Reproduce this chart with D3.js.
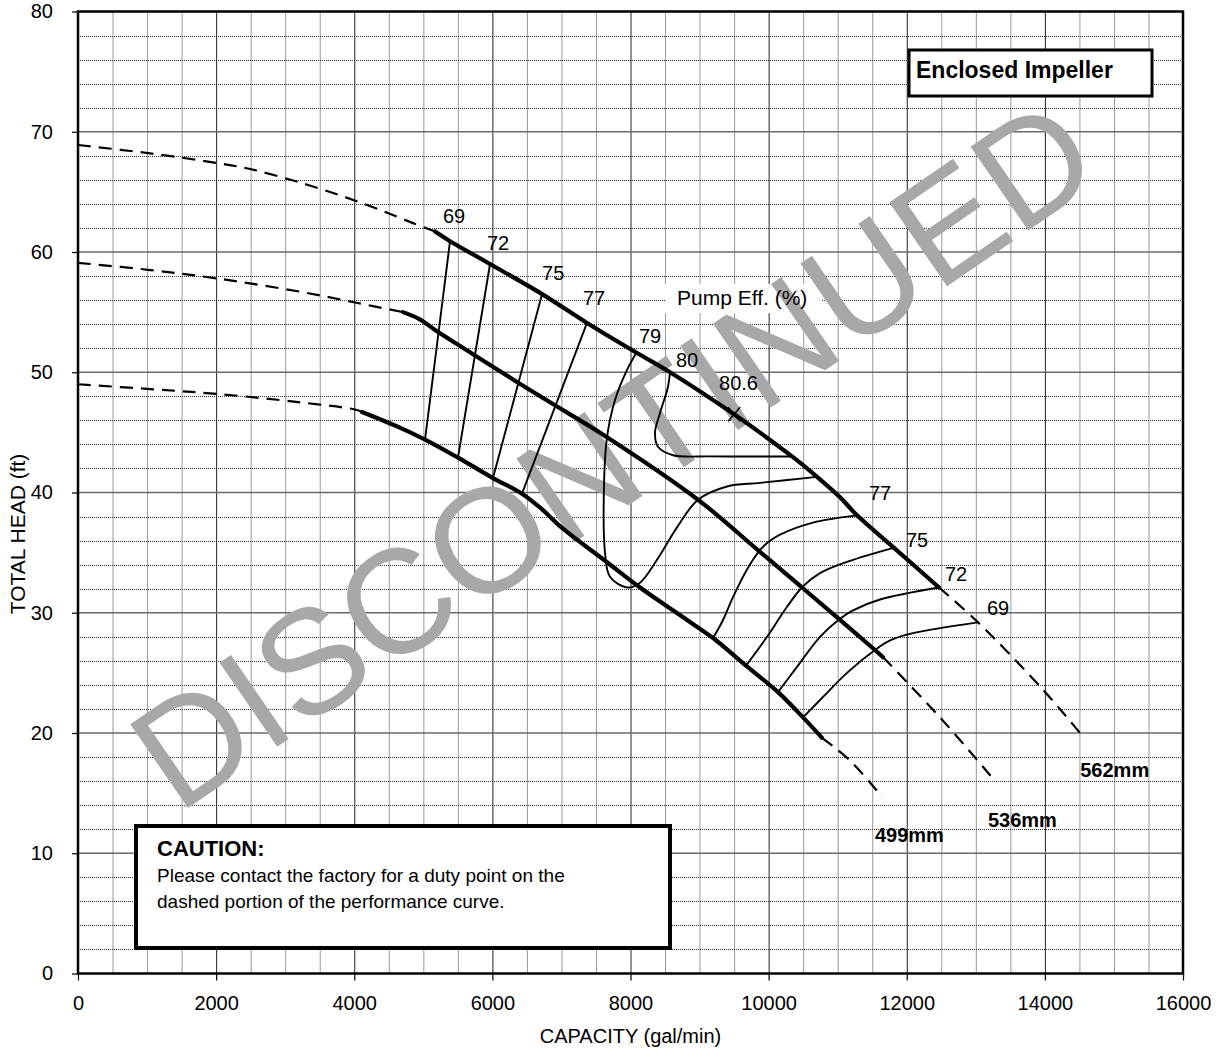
<!DOCTYPE html>
<html><head><meta charset="utf-8">
<script src="https://cdn.jsdelivr.net/npm/d3@7"></script>
<style>
body{margin:0;background:#fff;}
svg{display:block;}
text{font-family:"Liberation Sans",Arial,Helvetica,sans-serif;}
</style></head><body>
<svg id="chart" width="1218" height="1053"></svg>
<script>
// ---------- data ----------
const xTicks = [0,2000,4000,6000,8000,10000,12000,14000,16000];
const yTicks = [0,10,20,30,40,50,60,70,80];
const xMinor = d3.range(500,16000,500).filter(v => v % 2000 !== 0);
const yMinor = d3.range(2,80,2).filter(v => v % 10 !== 0);

// head curves (capacity gal/min, head ft)
const head562Low  = [[0,68.9],[1043,68.2],[2013,67.4],[2491,66.9],[3142,65.9],[3800,64.7],[4373,63.5],[4851,62.4],[5170,61.7]];
const head562Main = [[5170,61.7],[5387,60.9],[5966,59.0],[6720,56.5],[7370,54.1],[8094,51.6],[8572,50.0],[9500,46.5],[10339,43.0],[10701,41.3],[11034,39.6],[11280,38.1],[11816,35.4],[12467,32.1]];
const head562High = [[12467,32.1],[13032,29.2],[13973,23.6],[14509,20.0]];

const head536Low  = [[0,59.1],[1043,58.5],[2013,57.8],[3215,56.7],[4011,55.8],[4706,55.0]];
const head536Main = [[4706,55.0],[4950,54.4],[5198,53.4],[5720,51.5],[6299,49.4],[6835,47.5],[7660,44.6],[8978,39.4],[9846,35.2],[10484,32.1],[11034,29.4],[11540,26.9],[11657,26.3]];
const head536High = [[11657,26.3],[12482,21.3],[13235,16.3]];

const head499Low  = [[0,49.0],[1043,48.6],[2013,48.2],[3215,47.5],[4011,46.9],[4112,46.7]];
const head499Main = [[4112,46.7],[4619,45.5],[5025,44.4],[5502,42.9],[6009,41.2],[6429,39.9],[6720,38.6],[7000,37.1],[7660,34.2],[8138,32.1],[8818,29.4],[9195,27.9],[9673,25.6],[10136,23.4],[10498,21.3],[10773,19.6]];
const head499High = [[10773,19.6],[11179,17.7],[11642,14.7]];

// iso-efficiency curves
const eff69L = [[5387,60.9],[5025,44.4]];
const eff72L = [[5966,59.0],[5502,42.9]];
const eff75L = [[6720,56.5],[6009,41.2]];
const eff77L = [[7370,54.1],[6429,39.9]];
const eff79  = [[8094,51.7],[7950,50.2],[7776,47.7],[7660,44.6],[7616,40.5],[7631,35.0],[7703,33.0],[7950,32.1],[8138,32.5],[8384,34.4],[8674,37.1],[8978,39.4],[9398,40.5],[9875,40.8],[10701,41.3]];
const eff80  = [[8572,50.0],[8543,48.8],[8427,46.6],[8355,45.0],[8398,43.8],[8616,43.1],[9151,43.0],[9875,43.0],[10339,43.0]];
const eff77R = [[11280,38.1],[10643,37.5],[10165,36.5],[9977,35.8],[9875,35.2],[9687,33.6],[9484,31.3],[9340,29.4],[9195,27.9]];
const eff75R = [[11816,35.4],[11222,34.4],[10744,33.3],[10498,32.2],[10267,30.5],[9977,28.0],[9673,25.6]];
const eff72R = [[12467,32.1],[11613,31.1],[11222,30.2],[11034,29.5],[10744,28.0],[10411,25.5],[10136,23.4]];
const eff69R = [[13032,29.2],[12091,28.3],[11758,27.7],[11540,26.9],[11135,25.0],[10788,23.0],[10498,21.3]];

const bep = [9500,46.5];

const effLabels   = ["69","72","75","77","79","80","80.6","77","75","72","69"];
const effLabelPos = [[5285,62.4],[5922,60.2],[6719,57.7],[7312,55.6],[8123,52.4],[8659,50.4],[9282,48.5],[11453,39.4],[11989,35.5],[12554,32.6],[13162,29.8]];
const diaLabels   = ["562mm","536mm","499mm"];
const diaLabelPos = [[14512,16.3],[13176,12.2],[11540,10.9]];

// ---------- chart ----------
const svg = d3.select("#chart");
const X0 = 78, X1 = 1183, Y0 = 973.5, Y1 = 11.5;
const x = d3.scaleLinear().domain([0,16000]).range([X0,X1]);
const y = d3.scaleLinear().domain([0,80]).range([Y0,Y1]);

svg.append("rect").attr("width",1218).attr("height",1053).attr("fill","#fff");

// grid
const grid = svg.append("g");
grid.selectAll(".vmin").data(xMinor).join("line")
  .attr("x1",d=>x(d)+0.5).attr("x2",d=>x(d)+0.5).attr("y1",Y1).attr("y2",Y0)
  .attr("stroke","#333").attr("stroke-width",1).attr("stroke-dasharray","1,1");
grid.selectAll(".hmin").data(yMinor).join("line")
  .attr("y1",d=>Math.round(y(d))+0.5).attr("y2",d=>Math.round(y(d))+0.5).attr("x1",X0).attr("x2",X1)
  .attr("stroke","#333").attr("stroke-width",1).attr("stroke-dasharray","1,1");
grid.selectAll(".vmaj").data(xTicks.slice(1,-1)).join("line")
  .attr("x1",d=>x(d)+0.5).attr("x2",d=>x(d)+0.5).attr("y1",Y1).attr("y2",Y0)
  .attr("stroke","#222").attr("stroke-width",1);
grid.selectAll(".hmaj").data(yTicks.slice(1,-1)).join("line")
  .attr("y1",d=>y(d)).attr("y2",d=>y(d)).attr("x1",X0).attr("x2",X1)
  .attr("stroke","#6a6a6a").attr("stroke-width",1.4);

// Pump Eff label background
svg.append("rect").attr("x",665).attr("y",284).attr("width",157).attr("height",29).attr("fill","#fff");

// watermark
svg.append("text").text("DISCONTINUED")
  .attr("transform","translate(612,452) rotate(-34.5)")
  .attr("text-anchor","middle").attr("dy","0.36em")
  .attr("font-size",148).attr("fill","#a8a8a8");

// lines
const line = d3.line().x(d=>x(d[0])).y(d=>y(d[1])).curve(d3.curveCatmullRom.alpha(0.5));
const curves = svg.append("g").attr("fill","none").attr("stroke","#000").attr("stroke-linecap","butt");
[head562Low,head536Low,head499Low,head562High,head536High,head499High].forEach(d=>{
  curves.append("path").attr("d",line(d)).attr("stroke-width",2.2).attr("stroke-dasharray","13,8");
});
[eff69L,eff72L,eff75L,eff77L,eff79,eff80,eff77R,eff75R,eff72R,eff69R].forEach(d=>{
  curves.append("path").attr("d",line(d)).attr("stroke-width",1.9).attr("stroke-linejoin","round");
});
[head562Main,head536Main,head499Main].forEach(d=>{
  curves.append("path").attr("d",line(d)).attr("stroke-width",4.2).attr("stroke-linecap","round");
});
// BEP marker
const bx = x(bep[0]), by = y(bep[1]);
curves.append("path").attr("d",`M${bx-6},${by-7}L${bx+6},${by+7}M${bx-6},${by+7}L${bx+6},${by-7}`).attr("stroke-width",1.6);

// labels
svg.append("g").selectAll("text").data(effLabels).join("text")
  .attr("x",(d,i)=>x(effLabelPos[i][0])).attr("y",(d,i)=>y(effLabelPos[i][1]))
  .attr("font-size",20).attr("fill","#000").text(d=>d);
svg.append("g").selectAll("text").data(diaLabels).join("text")
  .attr("x",(d,i)=>x(diaLabelPos[i][0])).attr("y",(d,i)=>y(diaLabelPos[i][1]))
  .attr("font-size",20).attr("font-weight","bold").attr("fill","#000").text(d=>d);
svg.append("text").attr("x",677).attr("y",305).attr("font-size",21).text("Pump Eff. (%)");

// frame
svg.append("rect").attr("x",X0).attr("y",Y1).attr("width",X1-X0).attr("height",Y0-Y1)
  .attr("fill","none").attr("stroke","#000").attr("stroke-width",2.5);

// axes
const yAxis = svg.append("g").attr("transform",`translate(${X0},0)`)
  .call(d3.axisLeft(y).tickValues(yTicks).tickSize(6).tickPadding(19).tickFormat(d3.format("d")));
yAxis.select(".domain").remove();
yAxis.selectAll("line").attr("stroke","#000").attr("stroke-width",1.2);
yAxis.selectAll("text").attr("font-size",20).attr("font-family",null).attr("fill","#000");
const xAxis = svg.append("g").attr("transform",`translate(0,${Y0})`)
  .call(d3.axisBottom(x).tickValues(xTicks).tickSize(7).tickPadding(15).tickFormat(d3.format("d")));
xAxis.select(".domain").remove();
xAxis.selectAll("line").attr("stroke","#000").attr("stroke-width",1.2);
xAxis.selectAll("text").attr("font-size",20).attr("font-family",null).attr("fill","#000");

svg.append("text").attr("x",(X0+X1)/2).attr("y",1043).attr("text-anchor","middle")
  .attr("font-size",20).text("CAPACITY (gal/min)");
svg.append("text").attr("transform","translate(25,534) rotate(-90)").attr("text-anchor","middle")
  .attr("font-size",21).text("TOTAL HEAD (ft)");

// Enclosed impeller box
svg.append("rect").attr("x",909).attr("y",50).attr("width",243).attr("height",46)
  .attr("fill","#fff").attr("stroke","#000").attr("stroke-width",3);
svg.append("text").attr("x",916).attr("y",78).attr("font-size",23).attr("font-weight","bold").text("Enclosed Impeller");

// caution box
svg.append("rect").attr("x",136).attr("y",826).attr("width",534).attr("height",122)
  .attr("fill","#fff").attr("stroke","#000").attr("stroke-width",4);
svg.append("text").attr("x",157).attr("y",856).attr("font-size",22).attr("font-weight","bold").text("CAUTION:");
svg.append("text").attr("x",157).attr("y",882).attr("font-size",19).text("Please contact the factory for a duty point on the");
svg.append("text").attr("x",157).attr("y",908).attr("font-size",19).text("dashed portion of the performance curve.");
</script>
</body></html>
